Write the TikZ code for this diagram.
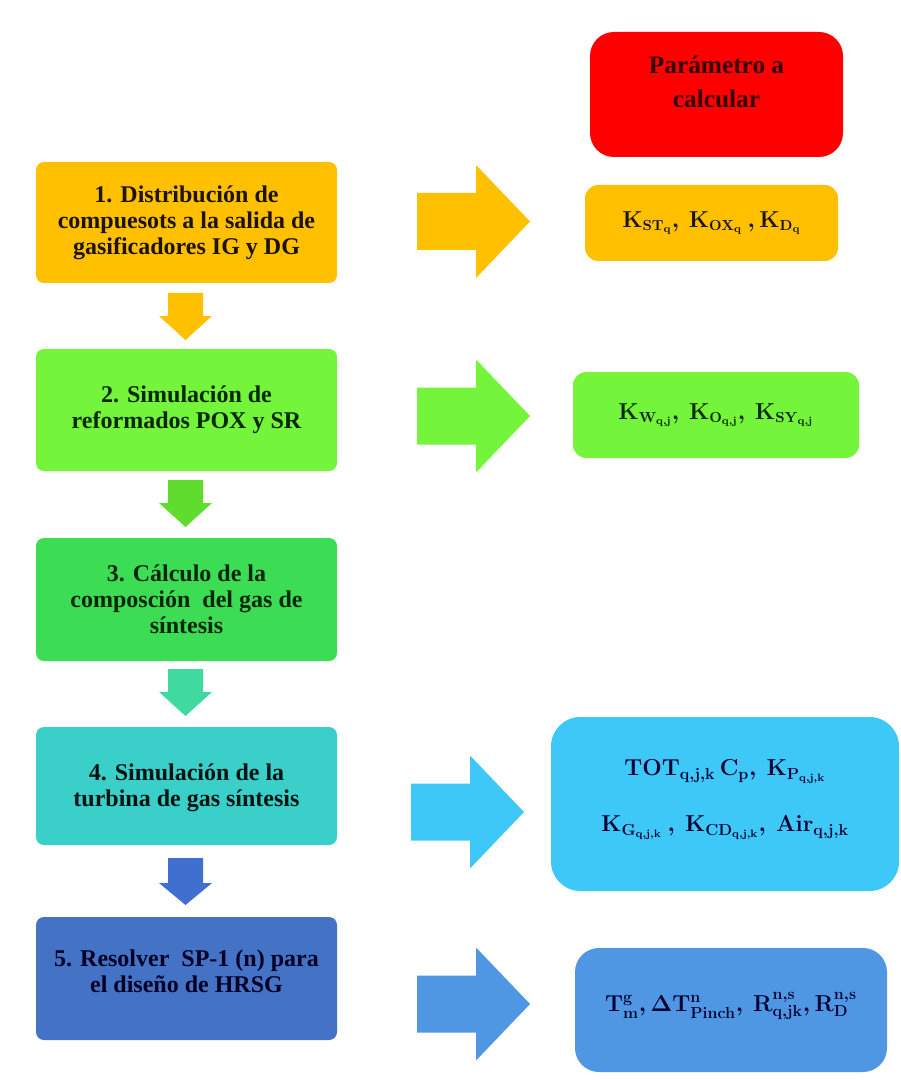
\documentclass[tikz,border=0pt]{standalone}
\usepackage{fontspec}
\setmainfont{Liberation Serif}
\newcommand\mb[1]{\mathbf{#1}}
\definecolor{cOr}{HTML}{FFC000}
\definecolor{cGr1}{HTML}{74F43B}
\definecolor{cGr1a}{HTML}{5FDC2E}
\definecolor{cGr2}{HTML}{3CDC55}
\definecolor{cMint}{HTML}{40D9A0}
\definecolor{cTeal}{HTML}{3ACFC8}
\definecolor{cSky}{HTML}{3EC8F8}
\definecolor{cBlueD}{HTML}{4472C4}
\definecolor{cBlueA}{HTML}{3F6FCF}
\definecolor{cBlueM}{HTML}{4F97E3}
\definecolor{cRed}{HTML}{FF0000}
\newcommand\dnarr[4]{% top, headbase, tip, colour
  \fill[#4] (168,#1) -- (203,#1) -- (203,#2) -- (212,#2) -- (185.5,#3) -- (159,#2) -- (168,#2) -- cycle;}
\newcommand\rtarr[3]{% centre y, x offset, colour
  \fill[#3, xshift=#2*0.75pt] (417,#1-28.5) -- (476,#1-28.5) -- (476,#1-56.5) -- (530,#1) -- (476,#1+56.5) -- (476,#1+28.5) -- (417,#1+28.5) -- cycle;}
\begin{document}
\begin{tikzpicture}[x=0.75pt,y=-0.75pt,
  lbox/.style={rounded corners=6pt, align=center, inner sep=0pt,
    font=\bfseries\fontsize{18}{19.5}\selectfont},
  rbox/.style={rounded corners=10pt, align=center, inner sep=0pt,
    font=\bfseries\boldmath\fontsize{16}{20}\selectfont},
]
\useasboundingbox[fill=white] (0,0) rectangle (900,1080);

% left step boxes
\node[lbox, fill=cOr, text=black!85!brown, minimum width=225.75pt, minimum height=90.75pt] (b1) at (186.5,222.5)
  {1. Distribución de\\compuesots a la salida de\\gasificadores IG y DG};
\node[lbox, fill=cGr1, text=black!85!green, minimum width=225.75pt, minimum height=91.5pt] (b2) at (186.5,410)
  {2. Simulación de\\reformados POX y SR};
\node[lbox, fill=cGr2, text=black!85!green, minimum width=225.75pt, minimum height=92.25pt] (b3) at (186.5,599.5)
  {3. Cálculo de la\\composción\ \ del gas de\\síntesis};
\node[lbox, fill=cTeal, text=black!85!teal, minimum width=225.75pt, minimum height=88.5pt] (b4) at (186.5,786)
  {\mbox{}\\[-4pt]4. Simulación de la\\turbina de gas síntesis};
\node[lbox, fill=cBlueD, text=black!85!blue, minimum width=225.75pt, minimum height=92.25pt] (b5) at (186.5,978.5)
  {5. Resolver\ \ SP-1 (n) para\\el diseño de HRSG\\[-8pt]\mbox{}};

% right parameter boxes
\node[rbox, rounded corners=18pt, fill=cRed, text=black!80!red, minimum width=189.75pt, minimum height=93.75pt,
  font=\bfseries\fontsize{19}{25}\selectfont] (p0) at (716.5,94.5)
  {Parámetro a\\calcular\\[-6pt]\mbox{}};
\node[rbox, fill=cOr, text=black!85!brown, minimum width=189.75pt, minimum height=57pt] (p1) at (711.5,223)
  {$\mb{K}_{\mb{ST}_{\mb{q}}},\ \mb{K}_{\mb{OX}_{\mb{q}}}\ ,\mb{K}_{\mb{D}_{\mb{q}}}$};
\node[rbox, fill=cGr1, text=black!85!green, minimum width=214.5pt, minimum height=64.5pt] (p2) at (716,415)
  {$\mb{K}_{\mb{W}_{\mb{q,j}}},\ \mb{K}_{\mb{O}_{\mb{q,j}}},\ \mb{K}_{\mb{SY}_{\mb{q,j}}}$};
\node[rbox, rounded corners=22pt, fill=cSky, text=black!80!blue, minimum width=261pt, minimum height=130.5pt,
  font=\bfseries\boldmath\fontsize{17}{42}\selectfont] (p4) at (725,804)
  {$\mb{TOT}_{\mb{q,j,k}}\,\mb{C}_{\mb{p}},\ \mb{K}_{\mb{P}_{\mb{q,j,k}}}$\\
   $\mb{K}_{\mb{G}_{\mb{q,j,k}}}\ ,\ \mb{K}_{\mb{CD}_{\mb{q,j,k}}},\ \mb{Air}_{\mb{q,j,k}}$\\[-30pt]\mbox{}};
\node[rbox, rounded corners=18pt, fill=cBlueM, text=black!80!blue, minimum width=234pt, minimum height=93pt,
  font=\bfseries\boldmath\fontsize{17}{20}\selectfont] (p5) at (731,1010)
  {$\mb{T}^{\mb{g}}_{\mb{m}},\Delta\mb{T}^{\mb{n}}_{\mb{Pinch}},\ \mb{R}^{\mb{n,s}}_{\mb{q,jk}},\mb{R}^{\mb{n,s}}_{\mb{D}}$\\[-8pt]\mbox{}};

% down block arrows (between steps)
\dnarr{293}{316}{340}{cOr}
\dnarr{480}{503}{527}{cGr1a}
\dnarr{669}{692}{716}{cMint}
\dnarr{858}{883}{905}{cBlueA}

% right block arrows (step -> parameters)
\rtarr{221.5}{0}{cOr}
\rtarr{416}{0}{cGr1}
\rtarr{812}{-6}{cSky}
\rtarr{1004}{0}{cBlueM}
\end{tikzpicture}
\end{document}
